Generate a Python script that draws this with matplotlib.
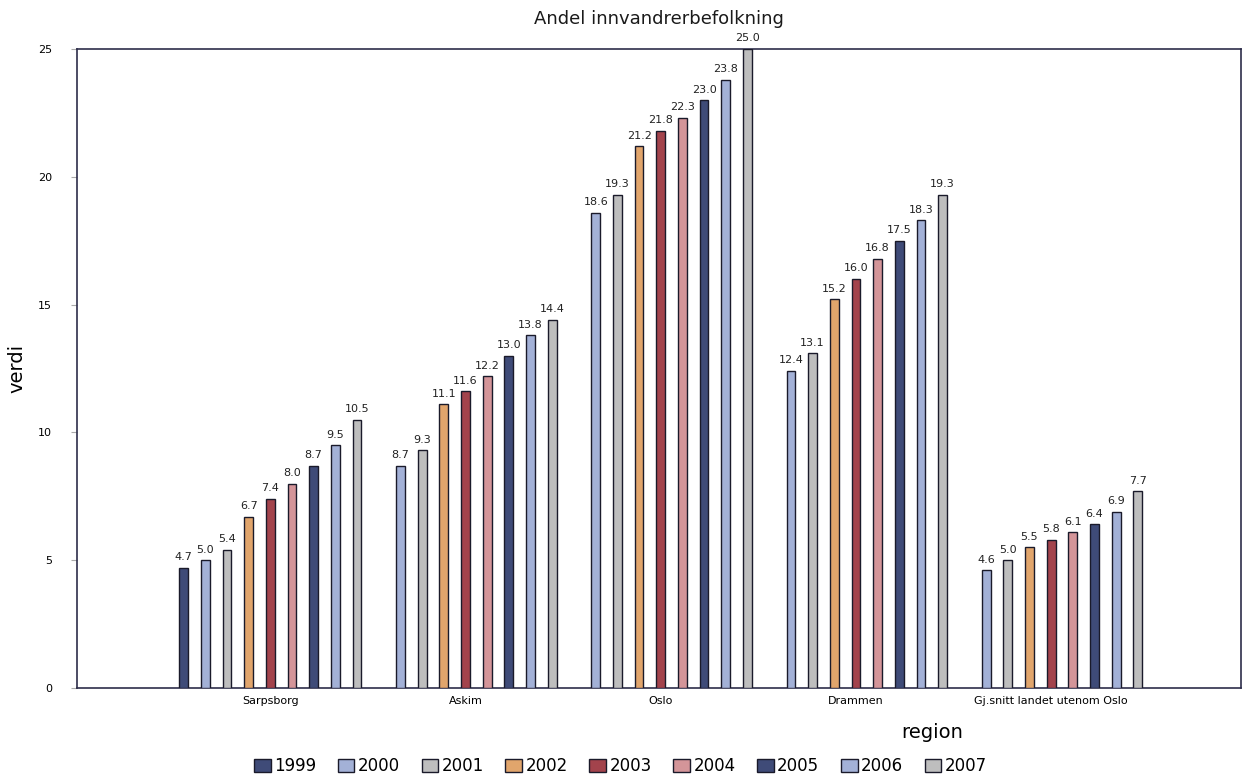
import numpy as np
import matplotlib
matplotlib.use('Agg')
import matplotlib.pyplot as plt

# data
regions = ['Sarpsborg', 'Askim', 'Oslo', 'Drammen', 'Gj.snitt landet utenom Oslo']
years = ['1999', '2000', '2001', '2002', '2003', '2004', '2005', '2006', '2007']
v1999 = [4.7, np.nan, np.nan, np.nan, np.nan]
v2000 = [5.0, 8.7, 18.6, 12.4, 4.6]
v2001 = [5.4, 9.3, 19.3, 13.1, 5.0]
v2002 = [6.7, 11.1, 21.2, 15.2, 5.5]
v2003 = [7.4, 11.6, 21.8, 16.0, 5.8]
v2004 = [8.0, 12.2, 22.3, 16.8, 6.1]
v2005 = [8.7, 13.0, 23.0, 17.5, 6.4]
v2006 = [9.5, 13.8, 23.8, 18.3, 6.9]
v2007 = [10.5, 14.4, 25.0, 19.3, 7.7]
series = [v1999, v2000, v2001, v2002, v2003, v2004, v2005, v2006, v2007]

colors = ['#3f4b78', '#a3b1d7', '#bebebe', '#e1a56c', '#a3434c',
          '#d49599', '#3f4b78', '#a3b1d7', '#bebebe']

fig = plt.figure(figsize=(12.43, 7.76), dpi=100)
ax = fig.add_axes([0.062, 0.1134, 0.936, 0.8235])

x = np.arange(len(regions))
step = 0.111
width = 0.045
for j, (yr, vals) in enumerate(zip(years, series)):
    pos = x + (j - 4) * step
    vals = np.array(vals, dtype=float)
    ax.bar(pos, vals, width=width, color=colors[j], edgecolor='#1a1a2a',
           linewidth=1.0, label=yr, zorder=3)
    for p, v in zip(pos, vals):
        if not np.isnan(v):
            ax.annotate(f'{v:.1f}', (p, v), textcoords='offset points',
                        xytext=(0, 4), ha='center', va='bottom', fontsize=8,
                        color='#222222')

ax.set_xlim(-0.99, 4.97)
ax.set_ylim(0, 25)
ax.set_yticks([0, 5, 10, 15, 20, 25])
ax.set_xticks(x)
ax.set_xticklabels(regions, fontsize=8)
ax.tick_params(axis='x', length=0, pad=6)
ax.tick_params(axis='y', labelsize=8, length=4, color='#aaaaaa', pad=14)
for s in ax.spines.values():
    s.set_color('#2d2d4a')
    s.set_linewidth(1.2)

ax.set_title('Andel innvandrerbefolkning', fontsize=13, pad=18,
             fontweight='medium', color='#1a1a1a')
ax.set_ylabel('verdi', fontsize=14, labelpad=8)
ax.set_xlabel('region', fontsize=14)
ax.xaxis.set_label_coords(0.735, -0.055)

ax.legend(loc='upper center', bbox_to_anchor=(0.467, -0.085), ncol=9,
          frameon=False, fontsize=12, handlelength=1.0, handleheight=0.8,
          handletextpad=0.2, columnspacing=1.3)

fig.savefig('out.png', dpi=100)
